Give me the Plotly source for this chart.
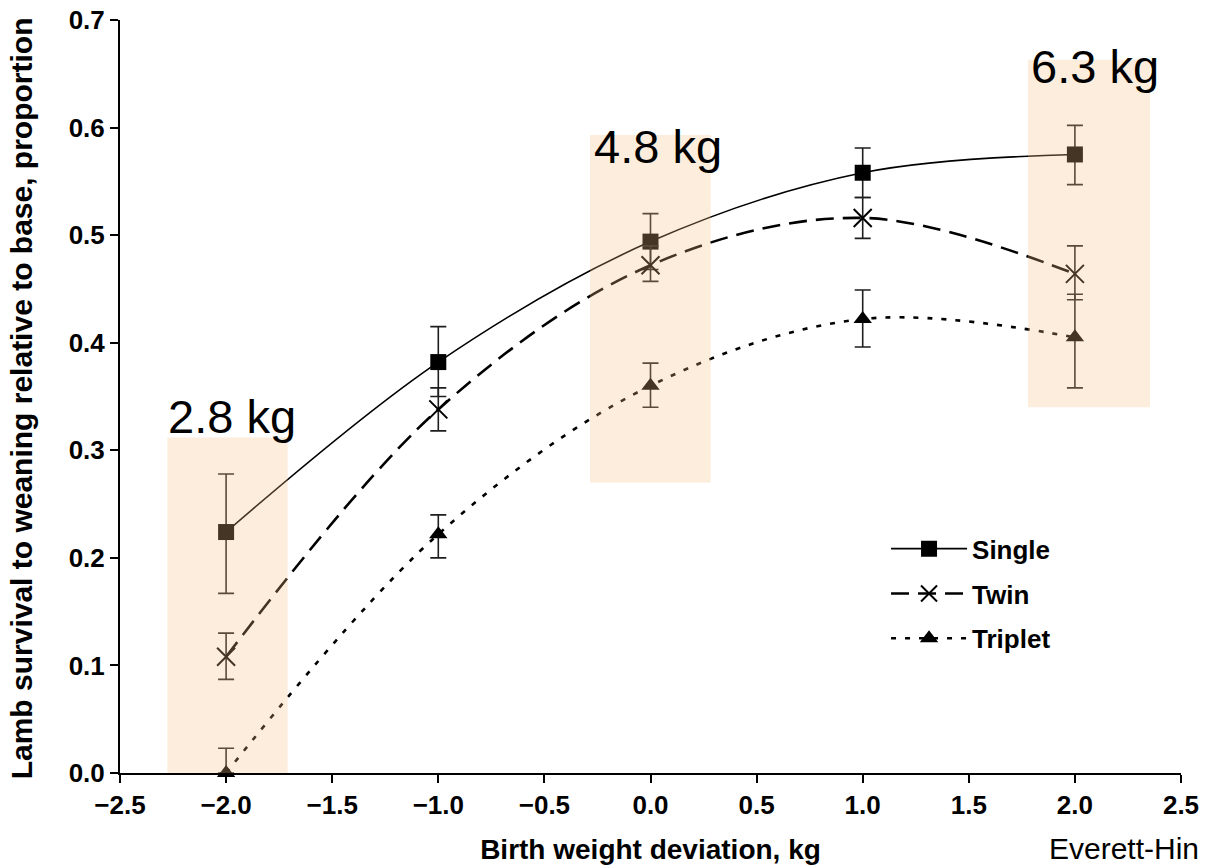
import plotly.graph_objects as go

# ---- data ----
x_vals = [-2.0, -1.0, 0.0, 1.0, 2.0]

single = [0.224, 0.382, 0.494, 0.558, 0.575]
single_hi = [0.278, 0.415, 0.520, 0.581, 0.602]
single_lo = [0.167, 0.350, 0.468, 0.535, 0.547]

twin = [0.108, 0.338, 0.472, 0.516, 0.464]
twin_hi = [0.130, 0.358, 0.490, 0.535, 0.490]
twin_lo = [0.087, 0.318, 0.457, 0.497, 0.440]

triplet = [0.0, 0.222, 0.360, 0.422, 0.405]
triplet_hi = [0.023, 0.240, 0.381, 0.449, 0.445]
triplet_lo = [0.0, 0.200, 0.340, 0.396, 0.358]

weight_labels = ["2.8 kg", "4.8 kg", "6.3 kg"]

x_ticks = [-2.5, -2.0, -1.5, -1.0, -0.5, 0.0, 0.5, 1.0, 1.5, 2.0, 2.5]
y_ticks = [0.0, 0.1, 0.2, 0.3, 0.4, 0.5, 0.6, 0.7]

FONT = "Liberation Sans, Arial, sans-serif"


def err(vals, hi, lo):
    return dict(type="data", symmetric=False,
                array=[h - v for h, v in zip(hi, vals)],
                arrayminus=[v - l for v, l in zip(vals, lo)],
                color="#1e1e1e", thickness=1.6, width=8)


fig = go.Figure()

fig.add_trace(go.Scatter(
    x=x_vals, y=single, name="Single", mode="lines+markers",
    line=dict(color="black", width=1.6, shape="spline", smoothing=1.0),
    marker=dict(symbol="square", size=16, color="black"),
    error_y=err(single, single_hi, single_lo), cliponaxis=False,
    legendgroup="a"))

fig.add_trace(go.Scatter(
    x=x_vals, y=twin, name="Twin", mode="lines+markers",
    line=dict(color="black", width=2.6, dash="18px,9px", shape="spline", smoothing=1.0),
    marker=dict(symbol="x-thin-open", size=18, color="black", line=dict(width=2, color="black")),
    error_y=err(twin, twin_hi, twin_lo), cliponaxis=False,
    legendgroup="b"))

fig.add_trace(go.Scatter(
    x=x_vals, y=triplet, name="Triplet", mode="lines+markers",
    line=dict(color="black", width=2.6, dash="5px,9px", shape="spline", smoothing=1.0),
    marker=dict(symbol="triangle-up", size=16, color="black"),
    error_y=err(triplet, triplet_hi, triplet_lo), cliponaxis=False,
    legendgroup="c"))

# shaded highlight boxes (drawn above, semi-transparent)
rects = [(-2.277, -1.710, -0.010, 0.312),
         (-0.285, 0.284, 0.270, 0.593),
         (1.779, 2.354, 0.340, 0.663)]
for x0, x1, y0, y1 in rects:
    fig.add_shape(type="rect", xref="x", yref="y", x0=x0, x1=x1, y0=y0, y1=y1,
                  fillcolor="rgba(247,190,130,0.28)", line=dict(width=0), layer="above")

label_pos = [(-2.285, 0.331), (-0.275, 0.582), (1.785, 0.657)]
for lab, (lx, ly) in zip(weight_labels, label_pos):
    fig.add_annotation(x=lx, y=ly, xref="x", yref="y", text=lab,
                       showarrow=False, xanchor="left", yanchor="middle",
                       font=dict(family=FONT, size=47, color="black"))

# y-axis title (placed as rotated annotation for exact positioning)
fig.add_annotation(x=-0.093, y=0.498, xref="paper", yref="paper", textangle=-90,
                   text="Lamb survival to weaning relative to base, proportion",
                   showarrow=False, xanchor="center", yanchor="middle",
                   font=dict(family=FONT, size=30, color="black", weight="bold"))

fig.add_annotation(x=0.8735, y=-0.125, xref="paper", yref="paper",
                   text="Everett-Hin", showarrow=False, xanchor="left", yanchor="bottom",
                   font=dict(family=FONT, size=30, color="black"))

fig.update_layout(
    width=1206, height=868,
    margin=dict(l=120, r=25, t=20, b=95, autoexpand=False),
    plot_bgcolor="white", paper_bgcolor="white",
    font=dict(family=FONT, color="black"),
    showlegend=True,
    legend=dict(x=0.722, y=0.329, xanchor="left", yanchor="top",
                font=dict(family=FONT, size=26, color="black", weight="bold"),
                bgcolor="rgba(0,0,0,0)", traceorder="grouped", tracegroupgap=8,
                itemwidth=76),
    xaxis=dict(range=[-2.5, 2.5], tickvals=x_ticks, tickformat=".1f",
               showgrid=False, zeroline=False, showline=True, linecolor="black",
               linewidth=2, ticks="outside", ticklen=8, tickwidth=2, tickcolor="black",
               tickfont=dict(family=FONT, size=26, weight="bold"),
               ticklabeloverflow="allow", automargin=False,
               title=dict(text="Birth weight deviation, kg", standoff=20,
                          font=dict(family=FONT, size=28, weight="bold"))),
    yaxis=dict(range=[0, 0.7], tickvals=y_ticks, tickformat=".1f",
               showgrid=False, zeroline=False, showline=True, linecolor="black",
               linewidth=2, ticks="outside", ticklen=8, tickwidth=2, tickcolor="black",
               tickfont=dict(family=FONT, size=26, weight="bold"),
               ticklabeloverflow="allow", automargin=False),
)

fig.write_html("out.html", config={"displayModeBar": False},
               post_script="document.body.style.margin='0';document.body.style.overflow='hidden';")
